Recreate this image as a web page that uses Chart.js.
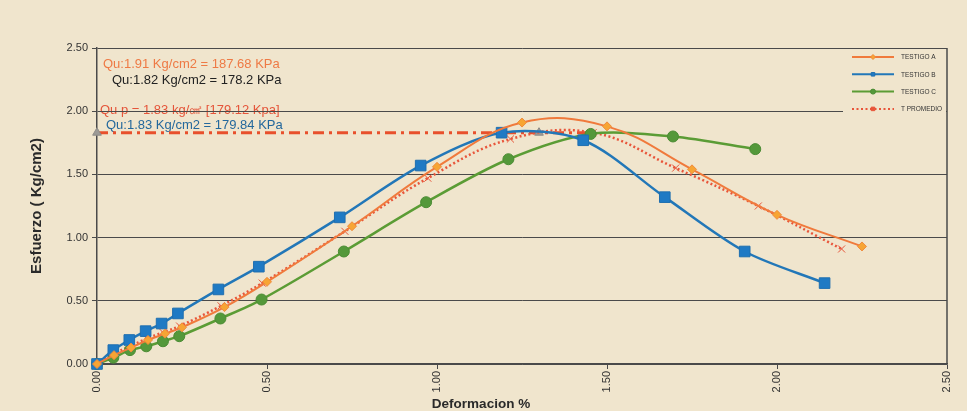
<!DOCTYPE html>
<html lang="es">
<head>
<meta charset="utf-8">
<title>Esfuerzo - Deformacion</title>
<script src="https://cdn.jsdelivr.net/npm/chart.js@4/dist/chart.umd.min.js"></script>
<style>
  html, body { margin: 0; padding: 0; background: #f0e5cd; }
  #wrap { width: 967px; height: 411px; }
</style>
</head>
<body>
<div id="wrap"><canvas id="esfuerzoChart" width="967" height="411"></canvas></div>
<script>
// Datos de los ensayos (deformacion %, esfuerzo Kg/cm2)
const testigoA_x = [0, 0.05, 0.10, 0.15, 0.20, 0.25, 0.375, 0.50, 0.75, 1.00, 1.25, 1.50, 1.75, 2.00, 2.25];
const testigoA_y = [0, 0.07, 0.13, 0.19, 0.24, 0.29, 0.45, 0.65, 1.09, 1.56, 1.91, 1.88, 1.54, 1.18, 0.93];

const testigoB_x = [0, 0.048, 0.095, 0.143, 0.19, 0.238, 0.357, 0.476, 0.714, 0.952, 1.19, 1.43, 1.67, 1.905, 2.14];
const testigoB_y = [0, 0.11, 0.19, 0.26, 0.32, 0.40, 0.59, 0.77, 1.16, 1.57, 1.83, 1.77, 1.32, 0.89, 0.64];

const testigoC_x = [0, 0.048, 0.097, 0.145, 0.194, 0.242, 0.363, 0.484, 0.726, 0.968, 1.21, 1.452, 1.694, 1.936];
const testigoC_y = [0, 0.05, 0.11, 0.14, 0.18, 0.22, 0.36, 0.51, 0.89, 1.28, 1.62, 1.82, 1.80, 1.70];

const promedio_x = [0, 0.049, 0.097, 0.146, 0.194, 0.243, 0.365, 0.486, 0.729, 0.973, 1.216, 1.459, 1.702, 1.945, 2.19];
const promedio_y = [0, 0.08, 0.14, 0.20, 0.25, 0.30, 0.46, 0.64, 1.05, 1.47, 1.78, 1.83, 1.55, 1.25, 0.91];

// linea horizontal del Qu promedio
const quP_x = [0, 1.30, 1.46];
const quP_y = [1.83, 1.83, 1.83];

const ejeTicks = [0, 0.5, 1.0, 1.5, 2.0, 2.5];

const notas = [
  { texto: 'Qu:1.91 Kg/cm2 = 187.68 KPa', color: '#ee7a45', x: 103, y: 68 },
  { texto: 'Qu:1.82 Kg/cm2 = 178.2 KPa', color: '#222222', x: 112, y: 84 },
  { texto: 'Qu p = 1.83 kg/㎠ [179.12 Kpa]', color: '#e5553a', x: 100, y: 114 },
  { texto: 'Qu:1.83 Kg/cm2 = 179.84 KPa', color: '#24689c', x: 106, y: 129 }
];

const FONDO = '#f0e5cd';
const FUENTE = "'Liberation Sans', Arial, sans-serif";

const puntos = (xs, ys) => xs.map((x, i) => ({ x: x, y: ys[i] }));

// textos y fondo antes de la grilla (la linea de 2.00 pasa sobre el texto rojo)
const notasPlugin = {
  id: 'notas',
  beforeDraw(chart) {
    const ctx = chart.ctx;
    ctx.save();
    ctx.fillStyle = FONDO;
    ctx.fillRect(0, 0, chart.width, chart.height);
    ctx.font = '13px ' + FUENTE;
    ctx.textBaseline = 'alphabetic';
    notas.forEach(n => {
      ctx.fillStyle = n.color;
      ctx.fillText(n.texto, n.x, n.y);
    });
    ctx.restore();
  }
};

// marco derecho, titulo del eje X y leyenda
const marcoPlugin = {
  id: 'marco',
  afterDraw(chart) {
    const ctx = chart.ctx;
    const a = chart.chartArea;
    ctx.save();
    ctx.strokeStyle = '#4a4a4a';
    ctx.lineWidth = 1.5;
    ctx.beginPath();
    ctx.moveTo(a.right, a.top);
    ctx.lineTo(a.right, a.bottom);
    ctx.stroke();

    ctx.fillStyle = '#2a2a2a';
    ctx.font = 'bold 13.5px ' + FUENTE;
    ctx.textAlign = 'center';
    ctx.textBaseline = 'middle';
    ctx.fillText('Deformacion %', 481, 404);

    // leyenda
    const bx = 843, by = a.top + 1;
    ctx.fillStyle = FONDO;
    ctx.fillRect(bx, by, a.right - bx - 1, 70);
    const series = chart.data.datasets.filter(d => d.enLeyenda);
    series.forEach((d, i) => {
      const y = 57 + i * 17.3;
      ctx.strokeStyle = d.borderColor;
      ctx.lineWidth = 2;
      ctx.setLineDash(d.borderDash || []);
      ctx.beginPath();
      ctx.moveTo(852, y);
      ctx.lineTo(894, y);
      ctx.stroke();
      ctx.setLineDash([]);
      ctx.fillStyle = d.pointBackgroundColor;
      ctx.strokeStyle = d.pointBorderColor;
      ctx.lineWidth = 1;
      Chart.helpers.drawPoint(ctx, { pointStyle: d.leyendaPunto, radius: 2.5, borderWidth: 1, rotation: 0 }, 873, y);
      ctx.fillStyle = '#333333';
      ctx.font = '6.5px ' + FUENTE;
      ctx.textAlign = 'left';
      ctx.textBaseline = 'middle';
      ctx.fillText(d.label.toUpperCase(), 901, y + 0.5);
    });
    ctx.restore();
  }
};

const ctx = document.getElementById('esfuerzoChart').getContext('2d');
new Chart(ctx, {
  type: 'line',
  data: {
    datasets: [
      {
        label: 'Testigo A',
        data: puntos(testigoA_x, testigoA_y),
        borderColor: '#f07a3c',
        borderWidth: 2,
        pointStyle: 'rectRot',
        pointRadius: 4.5,
        pointBackgroundColor: '#f7a534',
        pointBorderColor: '#f08a3c',
        pointBorderWidth: 1,
        tension: 0.4,
        clip: false,
        enLeyenda: true,
        leyendaPunto: 'rectRot'
      },
      {
        label: 'Testigo B',
        data: puntos(testigoB_x, testigoB_y),
        borderColor: '#2277b8',
        borderWidth: 2.5,
        pointStyle: 'rect',
        pointRadius: 7.5,
        pointBackgroundColor: '#1f7ac4',
        pointBorderColor: '#1f6fb0',
        pointBorderWidth: 1,
        tension: 0.3,
        clip: false,
        enLeyenda: true,
        leyendaPunto: 'rect'
      },
      {
        label: 'Testigo C',
        data: puntos(testigoC_x, testigoC_y),
        borderColor: '#5b9c35',
        borderWidth: 2.5,
        pointStyle: 'circle',
        pointRadius: 5.5,
        pointBackgroundColor: '#54983a',
        pointBorderColor: '#4b8c34',
        pointBorderWidth: 1,
        tension: 0.3,
        clip: false,
        enLeyenda: true,
        leyendaPunto: 'circle'
      },
      {
        label: 'T Promedio',
        data: puntos(promedio_x, promedio_y),
        borderColor: '#e8553a',
        borderWidth: 2.5,
        borderDash: [2, 2.5],
        pointStyle: 'crossRot',
        pointRadius: 5,
        pointBackgroundColor: '#e8553a',
        pointBorderColor: '#e8553a',
        pointBorderWidth: 1,
        tension: 0.4,
        clip: false,
        enLeyenda: true,
        leyendaPunto: 'rect'
      },
      {
        label: 'Qu p',
        data: puntos(quP_x, quP_y),
        borderColor: '#e8502c',
        borderWidth: 3,
        borderDash: [11, 5, 3, 5],
        pointStyle: ['triangle', 'triangle', false],
        pointRadius: [5, 5, 0],
        pointBackgroundColor: '#9c9a96',
        pointBorderColor: '#8e8c88',
        pointBorderWidth: 1,
        tension: 0,
        clip: false,
        enLeyenda: false
      }
    ]
  },
  options: {
    responsive: false,
    animation: false,
    devicePixelRatio: 1,
    layout: { padding: { top: 48, right: 20, left: 0, bottom: 0 } },
    plugins: {
      legend: { display: false },
      tooltip: { enabled: false }
    },
    scales: {
      x: {
        type: 'linear',
        min: 0,
        max: 2.5,
        afterFit: (scale) => { scale.height = 47; },
        afterBuildTicks: (scale) => { scale.ticks = ejeTicks.map(v => ({ value: v })); },
        ticks: {
          callback: (v) => Number(v).toFixed(2),
          minRotation: 90,
          maxRotation: 90,
          padding: 2,
          color: '#333333',
          font: { family: FUENTE, size: 11 }
        },
        grid: { drawOnChartArea: false, tickLength: 5, color: '#4a4a4a' },
        border: { display: true, color: '#4a4a4a', width: 1.5 }
      },
      y: {
        min: 0,
        max: 2.5,
        afterFit: (scale) => { scale.width = 97; },
        afterBuildTicks: (scale) => { scale.ticks = ejeTicks.map(v => ({ value: v })); },
        ticks: {
          callback: (v) => Number(v).toFixed(2),
          padding: 4,
          color: '#333333',
          font: { family: FUENTE, size: 11 }
        },
        grid: { color: '#4a4a4a', lineWidth: 1, tickLength: 5 },
        border: { display: true, color: '#4a4a4a', width: 1.5 },
        title: {
          display: true,
          text: 'Esfuerzo ( Kg/cm2)',
          color: '#2a2a2a',
          font: { family: FUENTE, size: 15, weight: 'bold' },
          padding: { top: 28, bottom: 0 }
        }
      }
    }
  },
  plugins: [notasPlugin, marcoPlugin]
});
</script>
</body>
</html>
